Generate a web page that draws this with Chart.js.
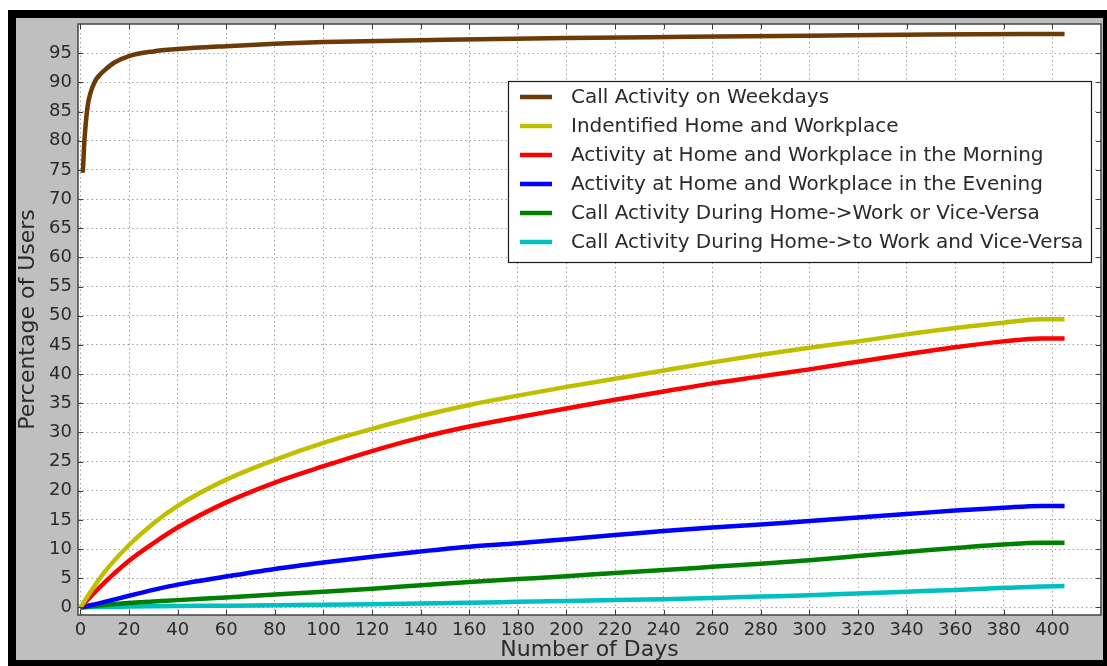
<!DOCTYPE html>
<html>
<head>
<meta charset="utf-8">
<script src="https://cdn.jsdelivr.net/npm/chart.js@4/dist/chart.umd.min.js"></script>
<style>
  html, body { margin: 0; padding: 0; background: #ffffff; }
  #frame {
    position: absolute; left: 8px; top: 10px; width: 1087px; height: 642px;
    background: #bfbfbf; border-style: solid; border-color: #000;
    border-width: 8px 4px 6px 8px;
  }
  #plot { position: absolute; left: 0; top: 0; }
</style>
</head>
<body>
<div id="frame"></div>
<canvas id="plot" width="1107" height="666"></canvas>
<script>
// Days on which the weekday call activity curve was sampled
const weekdayDays = [1, 1.5, 2, 3, 4, 6, 8, 10, 14, 20, 30, 40, 60, 80, 100, 150, 200, 250, 300, 350, 405];
const weekdayCalls = [74.5, 79, 82, 86, 88, 90.2, 91.3, 92.1, 93.4, 94.5, 95.3, 95.7, 96.2, 96.6, 96.9, 97.3, 97.6, 97.8, 98.0, 98.2, 98.3];

// Days shared by the remaining series
const days = [0, 5, 10, 20, 30, 40, 60, 80, 100, 120, 140, 160, 180, 200, 220, 240, 260, 280, 300, 320, 340, 360, 380, 395, 405];
const homeWork      = [0, 3.2, 6.1, 10.7, 14.4, 17.4, 21.9, 25.3, 28.2, 30.6, 32.8, 34.7, 36.3, 37.8, 39.2, 40.6, 42.0, 43.3, 44.5, 45.6, 46.8, 47.9, 48.8, 49.4, 49.4];
const morning       = [0, 2.2, 4.3, 8.0, 11.0, 13.7, 18.0, 21.4, 24.2, 26.8, 29.1, 31.0, 32.6, 34.1, 35.6, 37.0, 38.4, 39.6, 40.8, 42.1, 43.4, 44.6, 45.6, 46.1, 46.1];
const evening       = [0, 0.45, 0.95, 2.0, 3.0, 3.9, 5.3, 6.6, 7.7, 8.7, 9.6, 10.4, 11.0, 11.7, 12.4, 13.1, 13.7, 14.2, 14.8, 15.4, 16.0, 16.6, 17.1, 17.4, 17.4];
const commuteOr     = [0, 0.2, 0.4, 0.75, 1.0, 1.25, 1.7, 2.2, 2.7, 3.2, 3.8, 4.35, 4.85, 5.35, 5.9, 6.4, 6.95, 7.5, 8.1, 8.8, 9.5, 10.2, 10.8, 11.1, 11.1];
const commuteAnd    = [0, 0.05, 0.1, 0.15, 0.2, 0.25, 0.3, 0.38, 0.45, 0.55, 0.67, 0.8, 0.95, 1.1, 1.25, 1.4, 1.6, 1.85, 2.1, 2.4, 2.7, 3.0, 3.35, 3.6, 3.65];

const seriesLabels = [
  'Call Activity on Weekdays',
  'Indentified Home and Workplace',
  'Activity at Home and Workplace in the Morning',
  'Activity at Home and Workplace in the Evening',
  'Call Activity During Home->Work or Vice-Versa',
  'Call Activity During Home->to Work and Vice-Versa'
];
const seriesColors = ['#6b3a06', '#bfbf00', '#ff0000', '#0000ff', '#008000', '#00bfbf'];

const xTicks = [0, 20, 40, 60, 80, 100, 120, 140, 160, 180, 200, 220, 240, 260, 280, 300, 320, 340, 360, 380, 400];
const yTicks = [0, 5, 10, 15, 20, 25, 30, 35, 40, 45, 50, 55, 60, 65, 70, 75, 80, 85, 90, 95];

const pair = (xs, ys) => xs.map((x, i) => ({ x: x, y: ys[i] }));
const seriesData = [
  pair(weekdayDays, weekdayCalls),
  pair(days, homeWork),
  pair(days, morning),
  pair(days, evening),
  pair(days, commuteOr),
  pair(days, commuteAnd)
];

const FONT = 'DejaVu Sans';
const TEXT = '#2a2a2a';

// white plotting area, frame, inward tick marks and boxed legend
const axesDecor = {
  id: 'axesDecor',
  beforeDraw(chart) {
    const a = chart.chartArea, ctx = chart.ctx;
    ctx.save();
    ctx.fillStyle = '#ffffff';
    ctx.fillRect(a.left, a.top, a.right - a.left, a.bottom - a.top);
    ctx.restore();
  },
  afterDatasetsDraw(chart) {
    const a = chart.chartArea, ctx = chart.ctx;
    const xs = chart.scales.x, ys = chart.scales.y;
    ctx.save();
    ctx.strokeStyle = '#3a3a3a';
    ctx.lineWidth = 1;
    ctx.beginPath();
    xTicks.forEach(v => {
      const p = Math.round(xs.getPixelForValue(v)) + 0.5;
      ctx.moveTo(p, a.bottom); ctx.lineTo(p, a.bottom - 5);
      ctx.moveTo(p, a.top); ctx.lineTo(p, a.top + 5);
    });
    yTicks.forEach(v => {
      const p = Math.round(ys.getPixelForValue(v)) + 0.5;
      ctx.moveTo(a.left, p); ctx.lineTo(a.left + 5, p);
      ctx.moveTo(a.right, p); ctx.lineTo(a.right - 5, p);
    });
    ctx.stroke();
    ctx.strokeStyle = '#444';
    ctx.lineWidth = 1.5;
    ctx.strokeRect(a.left, a.top, a.right - a.left, a.bottom - a.top);

    // legend
    const box = { left: 508.5, top: 81.5, right: 1091.5, bottom: 262.5 };
    ctx.fillStyle = '#ffffff';
    ctx.fillRect(box.left, box.top, box.right - box.left, box.bottom - box.top);
    ctx.strokeStyle = '#1a1a1a';
    ctx.lineWidth = 1.2;
    ctx.strokeRect(box.left, box.top, box.right - box.left, box.bottom - box.top);
    ctx.font = '20px "' + FONT + '"';
    ctx.textBaseline = 'middle';
    ctx.textAlign = 'left';
    chart.data.datasets.forEach((ds, i) => {
      const y = 97 + i * 29;
      ctx.strokeStyle = ds.borderColor;
      ctx.lineWidth = 4.5;
      ctx.beginPath();
      ctx.moveTo(520, y); ctx.lineTo(552, y);
      ctx.stroke();
      ctx.fillStyle = TEXT;
      ctx.fillText(ds.label, 571, y + 1);
    });
    ctx.restore();
  }
};

new Chart(document.getElementById('plot'), {
  type: 'line',
  data: {
    datasets: seriesLabels.map((label, i) => ({
      label: label,
      data: seriesData[i],
      borderColor: seriesColors[i],
      backgroundColor: seriesColors[i],
      borderWidth: 4.5,
      pointRadius: 0,
      fill: false,
      cubicInterpolationMode: 'monotone',
      borderCapStyle: 'butt'
    }))
  },
  options: {
    responsive: false,
    animation: false,
    events: [],
    layout: { padding: { left: 0, right: 6, top: 24, bottom: 0 } },
    plugins: { legend: { display: false }, tooltip: { enabled: false } },
    scales: {
      x: {
        type: 'linear',
        min: -1, max: 420,
        afterBuildTicks: s => { s.ticks = xTicks.map(v => ({ value: v })); },
        afterFit: s => { s.height = 51; },
        grid: { color: '#a0a0a0', lineWidth: 1, drawTicks: false },
        border: { display: false, dash: [1.5, 3] },
        ticks: { padding: 5, color: TEXT, font: { family: FONT, size: 18 }, maxRotation: 0, autoSkip: false },
        title: { display: true, text: 'Number of Days', color: TEXT, font: { family: FONT, size: 22 }, padding: { top: 0, bottom: 3 } }
      },
      y: {
        type: 'linear',
        min: -1.3, max: 100,
        afterBuildTicks: s => { s.ticks = yTicks.map(v => ({ value: v })); },
        afterFit: s => { s.width = 78; },
        grid: { color: '#a0a0a0', lineWidth: 1, drawTicks: false },
        border: { display: false, dash: [1.5, 3] },
        ticks: { padding: 6, color: TEXT, font: { family: FONT, size: 18 }, autoSkip: false },
        title: { display: true, text: 'Percentage of Users', color: TEXT, font: { family: FONT, size: 22 }, padding: { top: 15, bottom: 0 } }
      }
    }
  },
  plugins: [axesDecor]
});
</script>
</body>
</html>
